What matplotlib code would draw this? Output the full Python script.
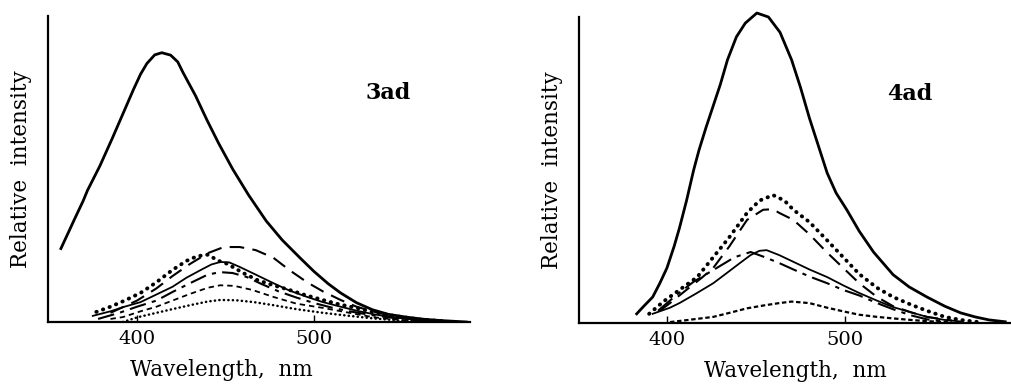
import matplotlib.pyplot as plt

# ---- data (wavelength in nm, relative intensity) ----
# 3ad panel
wl_3ad_main = [357, 365, 369.5, 372, 379, 386, 389, 392, 398, 402, 405.6, 410, 414, 419, 423, 426, 433, 439.5,
               446, 454, 463, 473, 482, 492, 500, 508, 515, 524, 533, 542, 552, 562, 571, 586]
int_3ad_main = [0.24, 0.34, 0.395, 0.43, 0.51, 0.60, 0.64, 0.68, 0.76, 0.81, 0.845, 0.873, 0.88, 0.872, 0.85,
                0.815, 0.74, 0.66, 0.585, 0.50, 0.415, 0.33, 0.268, 0.21, 0.165, 0.125, 0.095, 0.063, 0.04,
                0.025, 0.016, 0.009, 0.005, 0.0]

wl_3ad_longdash = [385, 400, 411, 420, 430, 440, 449, 458, 467, 477, 486, 496, 505, 515, 524, 533, 545, 560, 575]
int_3ad_longdash = [0.03, 0.07, 0.11, 0.15, 0.19, 0.225, 0.245, 0.245, 0.235, 0.21, 0.17, 0.13, 0.10, 0.072,
                    0.05, 0.035, 0.018, 0.008, 0.002]

wl_3ad_bigdot = [377, 385, 393, 402, 411, 420, 428, 434, 440, 446, 451, 460, 468, 477, 486, 495, 505, 514, 524,
                 534, 545, 560, 575]
int_3ad_bigdot = [0.033, 0.05, 0.07, 0.095, 0.13, 0.17, 0.20, 0.215, 0.22, 0.20, 0.19, 0.16, 0.137, 0.12, 0.105,
                  0.088, 0.072, 0.058, 0.046, 0.032, 0.02, 0.008, 0.002]

wl_3ad_solid = [375, 385, 393, 402, 411, 420, 428, 436, 442, 447, 452, 458, 467, 477, 486, 496, 505, 515, 524,
                534, 545, 560, 578]
int_3ad_solid = [0.02, 0.035, 0.05, 0.065, 0.09, 0.115, 0.145, 0.17, 0.188, 0.196, 0.195, 0.18, 0.155, 0.127,
                 0.103, 0.082, 0.065, 0.05, 0.037, 0.025, 0.015, 0.006, 0.0]

wl_3ad_dashdot = [378, 390, 400, 411, 420, 430, 440, 447, 454, 462, 470, 480, 490, 500, 510, 520, 532, 545, 560]
int_3ad_dashdot = [0.01, 0.03, 0.05, 0.07, 0.098, 0.127, 0.155, 0.163, 0.16, 0.147, 0.125, 0.10, 0.08, 0.062,
                   0.047, 0.035, 0.023, 0.013, 0.005]

wl_3ad_shortdash = [385, 392, 402, 411, 420, 430, 440, 447, 455, 465, 477, 490, 505, 520, 533, 548, 565]
int_3ad_shortdash = [0.01, 0.016, 0.035, 0.05, 0.07, 0.092, 0.112, 0.12, 0.118, 0.105, 0.082, 0.06, 0.046, 0.03,
                     0.016, 0.007, 0.002]

wl_3ad_finedot = [392, 400, 411, 420, 430, 440, 447, 456, 466, 477, 490, 505, 520, 533, 548, 565]
int_3ad_finedot = [0.0, 0.015, 0.03, 0.042, 0.055, 0.067, 0.072, 0.071, 0.065, 0.055, 0.042, 0.03, 0.02, 0.012,
                   0.005, 0.001]

# 4ad panel
wl_4ad_main = [383, 387, 392, 396, 400, 404, 407, 411, 415, 418, 422, 426, 430, 434, 439, 444, 450.5, 457, 463.5,
               470, 475, 480, 485, 490, 495, 501, 508, 516, 527, 536, 546, 556, 565, 573, 581, 590]
int_4ad_main = [0.03, 0.055, 0.085, 0.13, 0.18, 0.25, 0.31, 0.40, 0.50, 0.565, 0.64, 0.71, 0.78, 0.86, 0.935,
                0.98, 1.013, 1.0, 0.95, 0.86, 0.77, 0.67, 0.58, 0.49, 0.425, 0.37, 0.30, 0.232, 0.158, 0.118,
                0.085, 0.055, 0.033, 0.02, 0.01, 0.004]

wl_4ad_bigdot = [390, 398, 407, 417, 426, 435, 445, 452, 459.6, 466, 471, 480, 490, 499, 508, 518, 527, 537, 546,
                 556, 565, 575]
int_4ad_bigdot = [0.03, 0.07, 0.108, 0.15, 0.215, 0.28, 0.36, 0.40, 0.418, 0.40, 0.37, 0.33, 0.27, 0.215, 0.16,
                  0.115, 0.085, 0.06, 0.04, 0.02, 0.01, 0.003]

wl_4ad_longdash = [396, 401.7, 407, 420, 426, 435, 445, 454, 459.6, 463, 471, 480, 490, 499, 508, 518, 527, 537,
                   546, 560]
int_4ad_longdash = [0.04, 0.065, 0.09, 0.15, 0.18, 0.25, 0.337, 0.37, 0.372, 0.36, 0.337, 0.29, 0.23, 0.18,
                    0.13, 0.085, 0.055, 0.035, 0.02, 0.008]

wl_4ad_solid = [392, 401.7, 407, 416, 426, 434, 441, 447, 452, 456, 463, 471, 480, 490, 499, 508, 518, 527, 537,
                546, 556, 565]
int_4ad_solid = [0.03, 0.05, 0.065, 0.095, 0.13, 0.165, 0.196, 0.222, 0.236, 0.238, 0.222, 0.20, 0.175, 0.15,
                 0.123, 0.098, 0.073, 0.052, 0.035, 0.02, 0.01, 0.005]

wl_4ad_dashdot = [395, 405, 415, 428, 438, 447, 455, 463, 471, 480, 490, 499, 508, 518, 527, 537, 546, 556]
int_4ad_dashdot = [0.04, 0.09, 0.135, 0.18, 0.215, 0.232, 0.215, 0.196, 0.175, 0.152, 0.13, 0.108, 0.09, 0.065,
                   0.045, 0.025, 0.012, 0.005]

wl_4ad_shortdash = [401.7, 412, 426, 435, 445, 455, 463, 470, 480, 490, 499, 508, 518, 527, 537, 546, 560]
int_4ad_shortdash = [0.003, 0.01, 0.02, 0.033, 0.048, 0.058, 0.065, 0.07, 0.065, 0.05, 0.038, 0.027, 0.02, 0.015,
                     0.01, 0.006, 0.002]

tick_pos = [400, 500]
tick_labels = ['400', '500']

plt.rcParams['font.family'] = 'DejaVu Serif'

fig = plt.figure(figsize=(10.12, 3.9), dpi=100)
ax1 = fig.add_axes([48 / 1012, 68 / 390, 422 / 1012, 306 / 390])
ax2 = fig.add_axes([579 / 1012, 67 / 390, 433 / 1012, 306 / 390])

k = 'black'
dot = dict(linestyle=(0, (0.1, 1.7)), dash_capstyle='round')

# 3ad
ax1.plot(wl_3ad_main, int_3ad_main, color=k, lw=2.0)
ax1.plot(wl_3ad_longdash, int_3ad_longdash, color=k, lw=1.5, linestyle=(0, (7, 4)))
ax1.plot(wl_3ad_bigdot, int_3ad_bigdot, color=k, lw=2.8, **dot)
ax1.plot(wl_3ad_solid, int_3ad_solid, color=k, lw=1.3)
ax1.plot(wl_3ad_dashdot, int_3ad_dashdot, color=k, lw=1.5, linestyle=(0, (8, 3, 2, 3)))
ax1.plot(wl_3ad_shortdash, int_3ad_shortdash, color=k, lw=1.3, linestyle=(0, (3, 2.2)))
ax1.plot(wl_3ad_finedot, int_3ad_finedot, color=k, lw=1.8, **dot)
ax1.text(541.8, 0.748, '3ad', fontsize=16, fontweight='bold', ha='center', va='center')
ax1.set_xlim(349.7, 588.1)

# 4ad
ax2.plot(wl_4ad_main, int_4ad_main, color=k, lw=2.0, clip_on=False)
ax2.plot(wl_4ad_bigdot, int_4ad_bigdot, color=k, lw=2.8, **dot)
ax2.plot(wl_4ad_longdash, int_4ad_longdash, color=k, lw=1.5, linestyle=(0, (7, 4)))
ax2.plot(wl_4ad_solid, int_4ad_solid, color=k, lw=1.3)
ax2.plot(wl_4ad_dashdot, int_4ad_dashdot, color=k, lw=1.5, linestyle=(0, (9, 3, 2, 3)))
ax2.plot(wl_4ad_shortdash, int_4ad_shortdash, color=k, lw=1.6, linestyle=(0, (2, 1.2)))
ax2.text(536.5, 0.75, '4ad', fontsize=16, fontweight='bold', ha='center', va='center')
ax2.set_xlim(350.6, 593.8)

for ax, lab_x in [(ax1, 0.41), (ax2, 0.5)]:
    ax.set_ylim(0, 1)
    for border in ['right', 'top']:
        ax.spines[border].set_visible(False)
    ax.spines['left'].set_linewidth(1.6)
    ax.spines['bottom'].set_linewidth(1.6)
    ax.set_yticks([])
    ax.set_xticks(tick_pos)
    ax.set_xticklabels(tick_labels)
    ax.tick_params(axis='x', direction='in', length=5, width=1, labelsize=14, pad=6)
    ax.set_xlabel('Wavelength,  nm', fontsize=15.5)
    ax.set_ylabel('Relative  intensity', fontsize=15.5)
    ax.xaxis.set_label_coords(lab_x, -0.12)
    ax.yaxis.set_label_coords(-0.038, 0.5)

fig.savefig('out.png', dpi=100)
